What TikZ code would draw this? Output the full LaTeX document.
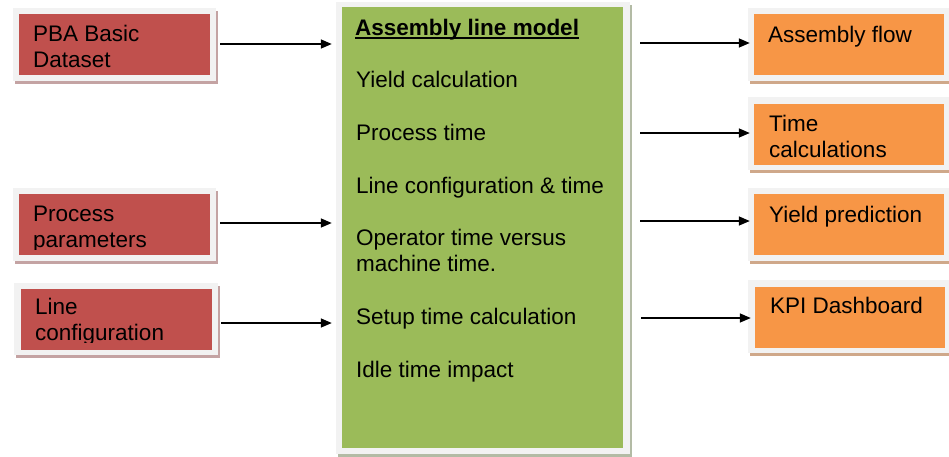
\documentclass[tikz,border=0pt]{standalone}
\usepackage{fontspec}
\setmainfont{Liberation Sans}
\usetikzlibrary{arrows.meta,shadows}
\definecolor{inred}{HTML}{C0504D}
\definecolor{outorange}{HTML}{F79646}
\definecolor{modelgreen}{HTML}{9BBB59}
\definecolor{framegray}{HTML}{F2F2F2}
\definecolor{redshadow}{HTML}{C4A3A3}
\definecolor{orangeshadow}{HTML}{CFA88A}
\definecolor{greenshadow}{HTML}{B3BBA5}
\tikzset{
  boxframe/.style={fill=framegray, inner sep=0pt,
    drop shadow={shadow xshift=2pt, shadow yshift=-3pt, fill=#1, opacity=1}},
  inbox/.style={fill=inred, inner sep=0pt, minimum width=191pt, minimum height=61pt},
  outbox/.style={fill=outorange, inner sep=0pt, minimum width=190pt, minimum height=61pt},
  % multi-line text nodes are placed by the baseline of their last line
  txt/.style={anchor=base west, inner sep=0pt, align=left,
    font=\fontsize{22.5}{25.5}\selectfont},
  flow/.style={line width=1.5pt, -{Triangle[length=11pt,width=9pt]}},
}
\begin{document}
\begin{tikzpicture}[x=1pt,y=-1pt]
\clip (0,0) rectangle (949,456);
\fill[white] (0,0) rectangle (949,456);

% central model block
\node[boxframe=greenshadow, minimum width=294pt, minimum height=452pt] (model) at (483,228) {};
\node[fill=modelgreen, inner sep=0pt, minimum width=281pt, minimum height=441pt] (modelin) at (482.5,227.5) {};
\node[txt, font=\fontsize{22.5}{25.5}\selectfont\bfseries] (title) at (355,35) {Assembly line model};
\draw[line width=2pt] ([yshift=-3pt]title.base west) -- ([yshift=-3pt]title.base east);
\node[txt] (m1) at (356,87) {Yield calculation};
\node[txt] (m2) at (356,140) {Process time};
\node[txt] (m3) at (356,193) {Line configuration \& time};
\node[txt] (m4) at (356,271) {Operator time versus\\machine time.};
\node[txt] (m5) at (356,324) {Setup time calculation};
\node[txt] (m6) at (356,377) {Idle time impact};

% input blocks
\node[boxframe=redshadow, minimum width=203pt, minimum height=73pt] (in1) at (114.5,44.5) {};
\node[inbox] (in1b) at (in1) {};
\node[txt] (in1t) at (33,67) {PBA Basic\\Dataset};

\node[boxframe=redshadow, minimum width=203pt, minimum height=73pt] (in2) at (114.5,224.5) {};
\node[inbox] (in2b) at (in2) {};
\begin{scope}
  \clip (19,194) rectangle (210,249);
  \node[txt] (in2t) at (33,247) {Process\\parameters};
\end{scope}

\node[boxframe=redshadow, minimum width=204pt, minimum height=72pt] (in3) at (116,319) {};
\node[inbox] (in3b) at (in3) {};
\begin{scope}
  \clip (21,288) rectangle (211,342);
  \node[txt] (in3t) at (35,340) {Line\\configuration};
\end{scope}

% output blocks
\node[boxframe=orangeshadow, minimum width=204pt, minimum height=73pt] (out1) at (850,44.5) {};
\node[outbox] (out1b) at (849,44.5) {};
\node[txt] (out1t) at (768,42) {Assembly flow};

\node[boxframe=orangeshadow, minimum width=204pt, minimum height=73pt] (out2) at (850,133.5) {};
\node[outbox] (out2b) at (849,134) {};
\node[txt] (out2t) at (769,157) {Time\\calculations};

\node[boxframe=orangeshadow, minimum width=204pt, minimum height=73pt] (out3) at (850,224.5) {};
\node[outbox] (out3b) at (849,224.5) {};
\node[txt] (out3t) at (769,222) {Yield prediction};

\node[boxframe=orangeshadow, minimum width=204pt, minimum height=73pt] (out4) at (850,316.5) {};
\node[outbox] (out4b) at (850,317) {};
\node[txt] (out4t) at (770,313) {KPI Dashboard};

% connectors into the model
\draw[flow, shorten <=4pt, shorten >=4pt] ([yshift=0.5pt]in1.east) -- ([yshift=0.5pt]in1.east -| model.west);
\draw[flow, shorten <=4pt, shorten >=4pt] ([yshift=1.5pt]in2.east) -- ([yshift=1.5pt]in2.east -| model.west);
\draw[flow, shorten <=3pt, shorten >=4pt] ([yshift=-4pt]in3.east) -- ([yshift=-4pt]in3.east -| model.west);

% connectors out of the model
\draw[flow, shorten <=10pt, shorten >=-2pt] ([yshift=1.5pt]out1.west -| model.east) -- ([yshift=1.5pt]out1.west);
\draw[flow, shorten <=10pt, shorten >=-2pt] ([yshift=0.5pt]out2.west -| model.east) -- ([yshift=0.5pt]out2.west);
\draw[flow, shorten <=10pt, shorten >=-2pt] ([yshift=3.5pt]out3.west -| model.east) -- ([yshift=3.5pt]out3.west);
\draw[flow, shorten <=11pt, shorten >=-3pt] ([yshift=-1.5pt]out4.west -| model.east) -- ([yshift=-1.5pt]out4.west);
\end{tikzpicture}
\end{document}
